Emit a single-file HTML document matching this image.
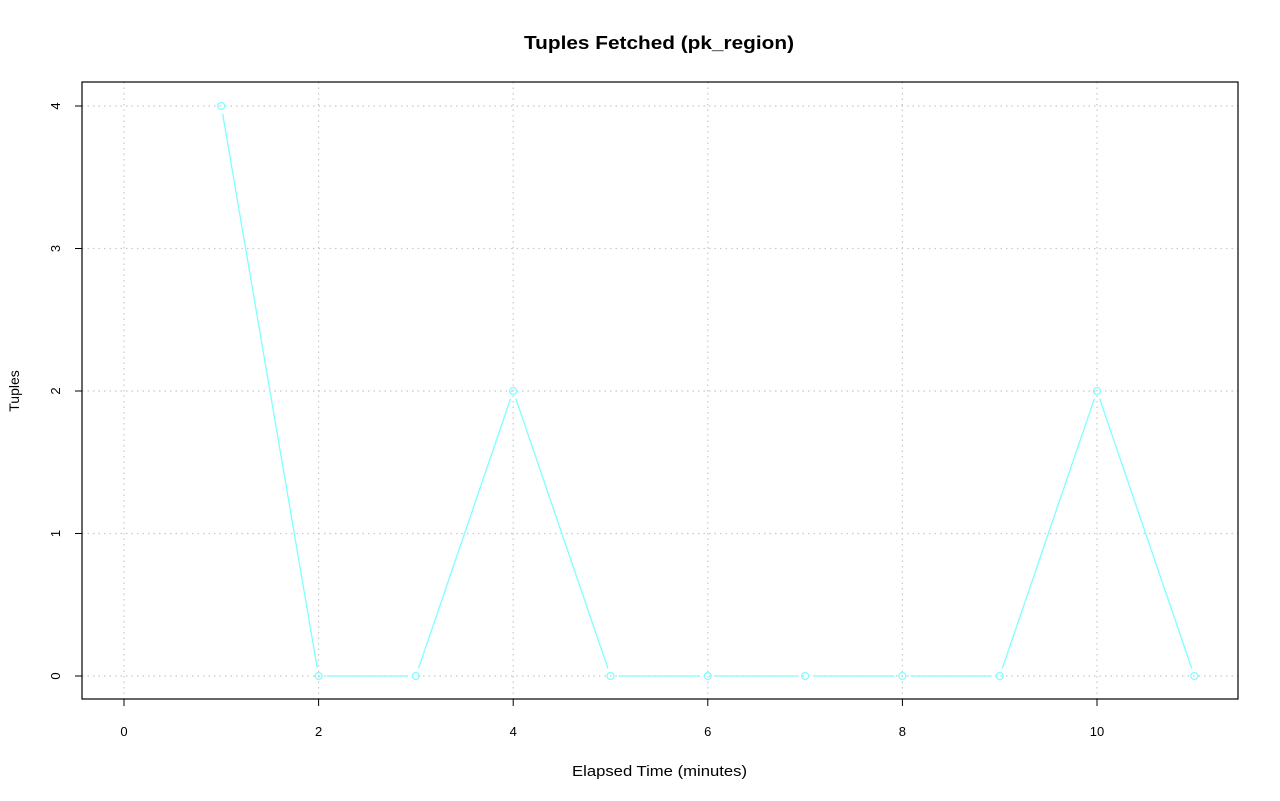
<!DOCTYPE html>
<html><head><meta charset="utf-8"><style>
html,body{margin:0;padding:0;background:#fff;}
svg{display:block;font-family:"Liberation Sans",Arial,sans-serif;}
</style></head><body>
<svg id="s" width="1280" height="801" xmlns="http://www.w3.org/2000/svg">
<rect width="1280" height="801" fill="#fff"/>
<text x="659" y="49" text-anchor="middle" font-size="18" font-weight="bold" textLength="270" lengthAdjust="spacingAndGlyphs">Tuples Fetched (pk_region)</text>
<text x="659.5" y="776" text-anchor="middle" font-size="14.5" textLength="175" lengthAdjust="spacingAndGlyphs">Elapsed Time (minutes)</text>
<text transform="translate(19,391) rotate(-90)" text-anchor="middle" font-size="14">Tuples</text>
<g id="grid" stroke="#c8c8c8" stroke-dasharray="1.5,4" stroke-width="1.2"></g>
<g id="ax" stroke="#000" stroke-width="1"></g>
<g id="lab" font-size="13" fill="#000"></g>
<g id="ser" stroke="#7fffff" stroke-width="1.3" fill="none"></g>
<rect x="82" y="82" width="1156" height="617" fill="none" stroke="#000" stroke-width="1.2"/>
</svg>
<script>
const NS="http://www.w3.org/2000/svg";
function el(p,t,a){const e=document.createElementNS(NS,t);for(const k in a)e.setAttribute(k,a[k]);document.getElementById(p).appendChild(e);return e;}
const X=t=>124+97.3*t, Y=v=>676-142.5*v;
for(let t=0;t<=10;t+=2){el("grid","line",{x1:X(t),x2:X(t),y1:82,y2:699});
 el("ax","line",{x1:X(t),x2:X(t),y1:699,y2:706});
 const tx=el("lab","text",{x:X(t),y:736,"text-anchor":"middle"});tx.textContent=t;}
for(let v=0;v<=4;v++){el("grid","line",{x1:82,x2:1238,y1:Y(v),y2:Y(v)});
 el("ax","line",{x1:75,x2:82,y1:Y(v),y2:Y(v)});
 const tx=el("lab","text",{transform:`translate(60,${Y(v)}) rotate(-90)`,"text-anchor":"middle"});tx.textContent=v;}
const d=[4,0,0,2,0,0,0,0,0,2,0];
const P=d.map((v,i)=>[X(i+1),Y(v)]);
for(let i=0;i<P.length-1;i++){const [x1,y1]=P[i],[x2,y2]=P[i+1];const dx=x2-x1,dy=y2-y1,L=Math.hypot(dx,dy),g=8;
 el("ser","line",{x1:x1+dx/L*g,y1:y1+dy/L*g,x2:x2-dx/L*g,y2:y2-dy/L*g});}
P.forEach(p=>el("ser","circle",{cx:p[0],cy:p[1],r:3.5}));
</script>
</body></html>
